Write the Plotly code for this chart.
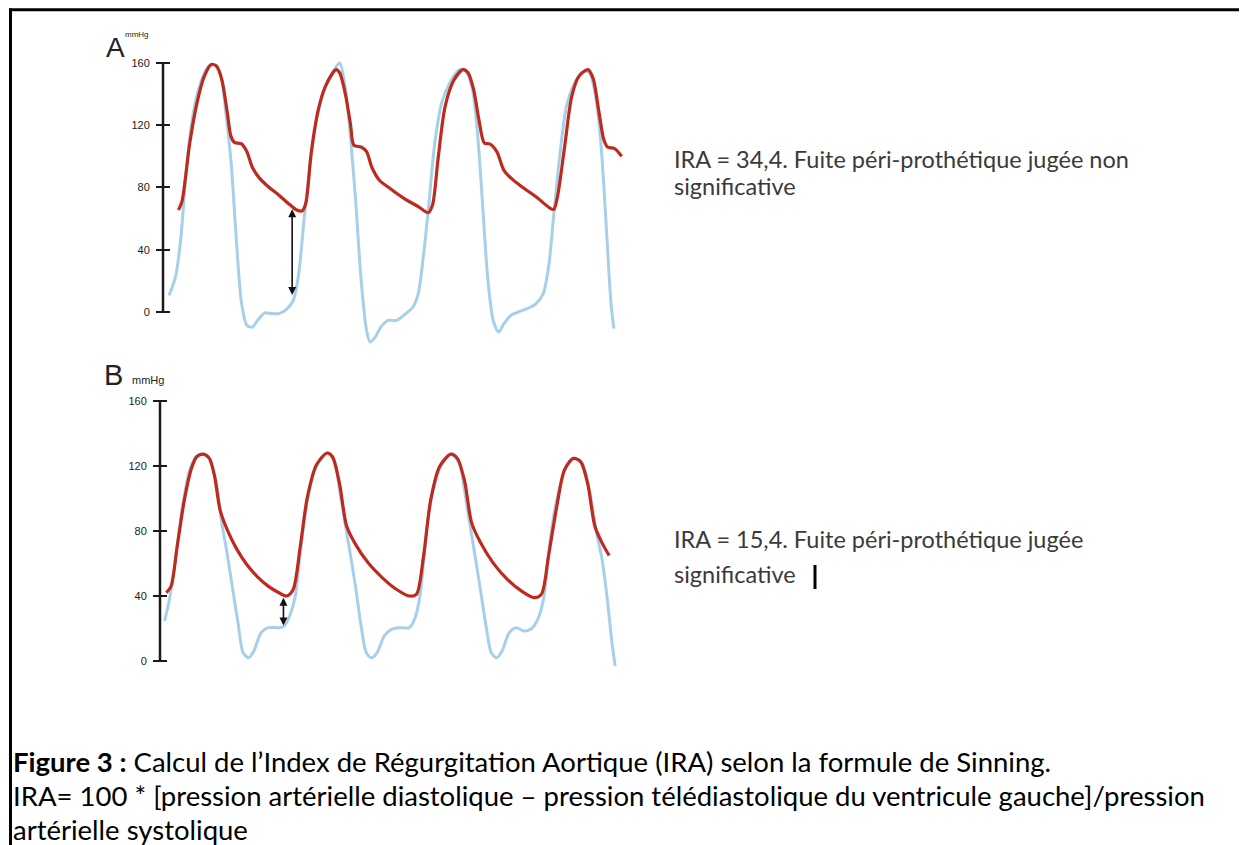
import plotly.graph_objects as go

W, H = 1247, 845

# ---------------- data (time in ms, pressure in mmHg) ----------------
y_ticks = [0, 40, 80, 120, 160]

# Panel A - aortic pressure (red) and LV pressure (blue)
tA_aorta = [65, 90, 145, 195, 245, 295, 333, 370, 408, 433, 458, 508, 545, 583, 633, 695, 770, 845, 895, 933,
            958, 995, 1045, 1095, 1170, 1195, 1233, 1270, 1295, 1345, 1383, 1420, 1470, 1545, 1645, 1745, 1815, 1845, 1883, 1933,
            1995, 2058, 2095, 2133, 2170, 2208, 2245, 2295, 2345, 2395, 2470, 2570, 2670, 2695, 2720, 2770, 2820, 2870, 2933, 2970,
            3008, 3045, 3070, 3120, 3170]
pA_aorta = [65.5, 70.9, 108.5, 134, 151, 159, 158, 149, 128, 113, 109, 108, 103, 93, 86, 80.5, 75, 69, 65.5, 65,
            70, 102, 130, 145, 155.7, 153.6, 140.7, 121, 107, 106, 103, 93, 85, 79.5, 73, 67.7, 63.8, 68.7, 97.7, 132,
            149, 155.7, 153.6, 142.8, 123.5, 108.5, 108, 103, 91, 86, 80.5, 74, 66.6, 66, 74, 106, 138.5, 151.4, 155.7, 150,
            130, 110.6, 106, 105, 100]
tA_lv = [0, 45, 83, 120, 170, 220, 270, 308, 358, 395, 433, 470, 508, 545, 583, 620, 670, 720, 770, 820,
         870, 908, 945, 983, 1033, 1095, 1158, 1195, 1233, 1270, 1308, 1345, 1383, 1408, 1445, 1483, 1533, 1595, 1658, 1708,
         1745, 1783, 1820, 1858, 1908, 1970, 2033, 2070, 2120, 2158, 2195, 2233, 2270, 2308, 2345, 2395, 2445, 2508, 2570, 2620,
         2658, 2695, 2733, 2783, 2845, 2908, 2945, 2983, 3020, 3045, 3070, 3095, 3115]
pA_lv = [10.7, 22.5, 48, 91, 128, 147, 157, 159, 153.6, 130, 97.7, 48, 5.4, -8.6, -9.7, -5.4, -0.6, -1, -1, 1.5,
         7.5, 24.7, 59, 91, 123.5, 145, 155.7, 160, 145, 112.8, 69.8, 20.4, -11.8, -19.3, -16, -9.7, -5.4, -5.4, -1, 3.2,
         11.8, 37.6, 69.8, 106.3, 134, 148, 155.7, 155.7, 145, 117, 69.8, 20.4, -5.4, -12.9, -7.5, -2.1, 0, 2.1, 5.4, 11.8,
         29, 63.4, 97.7, 132, 148, 154.6, 153.6, 140.7, 112.8, 80.5, 41.9, 5.4, -10.7]

# Panel B
tB_aorta = [-18, 15, 58, 108, 158, 195, 240, 283, 320, 358, 408, 470, 545, 620, 695, 770, 825, 870, 920, 970,
            1033, 1108, 1145, 1195, 1245, 1308, 1395, 1495, 1595, 1683, 1733, 1783, 1833, 1895, 1975, 2020, 2070, 2120, 2183, 2270,
            2370, 2470, 2558, 2608, 2658, 2720, 2770, 2833, 2883, 2933, 2983, 3033, 3083]
pB_aorta = [42, 46, 70.6, 99, 118.6, 125.7, 127.3, 124.7, 113.5, 93, 80.8, 69.6, 59.4, 51.8, 46.1, 42, 40, 44, 70.6, 101,
            120.6, 128, 125.7, 109, 82.9, 71.6, 60.4, 51.2, 44, 40, 41, 64.5, 99, 119.6, 127.3, 124.7, 111, 85, 72.7, 60.4,
            50.2, 43, 39, 41, 64.5, 97, 117.6, 124.7, 122.7, 109, 82.9, 72.7, 64.9]
tB_lv = [-30, 8, 45, 95, 145, 195, 240, 283, 333, 370, 408, 445, 483, 520, 558, 595, 645, 695, 770, 808,
         845, 883, 920, 970, 1033, 1108, 1158, 1195, 1233, 1270, 1308, 1345, 1383, 1420, 1458, 1508, 1558, 1620, 1683, 1720,
         1758, 1808, 1845, 1908, 1975, 2033, 2070, 2108, 2145, 2183, 2220, 2258, 2295, 2333, 2383, 2433, 2483, 2533, 2583, 2625,
         2670, 2720, 2783, 2833, 2895, 2945, 2995, 3033, 3070, 3100, 3125]
pB_lv = [24.6, 40, 62.4, 95, 117.6, 126, 127.3, 124.7, 109, 85, 66, 45, 24, 5, 2, 6.2, 17.4, 20.5, 20.5, 21.5,
         27.7, 39, 66.5, 99, 120.6, 128, 123.7, 105, 85, 66, 45, 22, 5, 2, 5.1, 15.4, 19.5, 20.5, 20.5, 25.6,
         40, 82.9, 103, 120.6, 127.3, 121.6, 105, 84, 64, 43, 22, 5, 2, 6.2, 17.4, 20.5, 18.5, 19.5, 25.6, 39,
         74.7, 101, 119.6, 124.7, 121.6, 105, 78.8, 62.6, 38, 13.3, -3.1]

# Double arrows (time, top pressure, bottom pressure)
arrow_t = [862, 802]
arrow_top = [66, 39]
arrow_bottom = [10, 21]

panel_letters = ["A", "B"]
unit_label = "mmHg"
ira_texts = [["IRA = 34,4. Fuite péri-prothétique jugée non", "significative"],
             ["IRA = 15,4. Fuite péri-prothétique jugée", "significative"]]
caption_lines = ["<b>Figure 3 :</b> Calcul de l’Index de Régurgitation Aortique (IRA) selon la formule de Sinning.",
                 "IRA= 100 * [pression artérielle diastolique – pression télédiastolique du ventricule gauche]/pression",
                 "artérielle systolique"]

RED = "#bf2a1e"
BLUE = "#a6d0ea"
AX = "#1a1a1a"

# the page body keeps its default 8px margin: positions below are given in window pixels
OFF = 8


def px(x):
    return (x - OFF) / W


def py(y):
    return 1 - (y - OFF) / H


fig = go.Figure()

for ax, (t_lv, p_lv, t_ao, p_ao) in zip(["", "2"], [(tA_lv, pA_lv, tA_aorta, pA_aorta),
                                                   (tB_lv, pB_lv, tB_aorta, pB_aorta)]):
    fig.add_trace(go.Scatter(x=t_lv, y=p_lv, mode="lines", xaxis="x" + ax, yaxis="y" + ax,
                             line=dict(color=BLUE, width=3, shape="spline", smoothing=0.8), hoverinfo="skip"))
    fig.add_trace(go.Scatter(x=t_ao, y=p_ao, mode="lines", xaxis="x" + ax, yaxis="y" + ax,
                             line=dict(color=RED, width=3.2, shape="spline", smoothing=0.8), hoverinfo="skip"))

# axis geometry (window pixels)
A_axis_px, B_axis_px = 163, 160
right_px = 640
A_top, A_bot = 47.4, 350.9
B_top, B_bot = 384.75, 677.25
tick_half = 7

tickfont = dict(family="Liberation Sans", size=11, color="#1a1a1a")
common_y = dict(tickvals=y_ticks, ticks="outside", ticklen=2 * tick_half, tickwidth=2, tickcolor=AX,
                showgrid=False, zeroline=False, showline=False, tickfont=tickfont, ticklabelstandoff=4,
                anchor="free")

fig.update_layout(
    width=W, height=H, margin=dict(l=0, r=0, t=0, b=0),
    paper_bgcolor="white", plot_bgcolor="rgba(0,0,0,0)", showlegend=False,
    xaxis=dict(domain=[px(A_axis_px), px(right_px)], range=[-42.5, 3298], visible=False),
    xaxis2=dict(domain=[px(B_axis_px), px(right_px)], range=[-62.5, 3299], visible=False),
    yaxis=dict(domain=[py(A_bot), py(A_top)], range=[-25, 170], position=px(A_axis_px + tick_half), **common_y),
    yaxis2=dict(domain=[py(B_bot), py(B_top)], range=[-10, 170], position=px(B_axis_px + tick_half), **common_y),
)

shapes = []
# vertical axis lines from 0 to 160
for xr, yr in [("x domain", "y"), ("x2 domain", "y2")]:
    shapes.append(dict(type="line", xref=xr, yref=yr, x0=0, x1=0, y0=min(y_ticks), y1=max(y_ticks),
                       line=dict(color=AX, width=2.5)))
# figure border (left and top)
shapes.append(dict(type="line", xref="paper", yref="paper", x0=px(10.5), x1=px(10.5), y0=0, y1=py(8.5),
                   line=dict(color="black", width=3)))
shapes.append(dict(type="line", xref="paper", yref="paper", x0=px(9), x1=1, y0=py(9.8), y1=py(9.8),
                   line=dict(color="black", width=3)))
# text cursor after B text
shapes.append(dict(type="line", xref="paper", yref="paper", x0=px(815), x1=px(815), y0=py(565), y1=py(589),
                   line=dict(color="black", width=3)))
fig.update_layout(shapes=shapes)

ann = []
# arrows
for i, (xa, ya) in enumerate([("x", "y"), ("x2", "y2")]):
    ann.append(dict(x=arrow_t[i], y=arrow_top[i], ax=arrow_t[i], ay=arrow_bottom[i], xref=xa, yref=ya,
                    axref=xa, ayref=ya, text="", showarrow=True, arrowhead=2, arrowside="end+start",
                    arrowsize=1, arrowwidth=1.6, arrowcolor="#111", standoff=0, startstandoff=0))


def label(x, y, txt, size):
    return dict(x=px(x), y=py(y), xref="paper", yref="paper", text=txt, showarrow=False,
                xanchor="center", yanchor="middle",
                font=dict(family="Liberation Sans", size=size, color="#222"))


# panel letters and units
ann.append(label(115, 47, panel_letters[0], 28))
ann.append(label(137, 35, unit_label, 8))
ann.append(label(113, 375, panel_letters[1], 29))
ann.append(label(148, 380, unit_label, 11))

# IRA texts (window baselines converted to box centres)
IRA_SIZE = 23.5
for lines, baselines in zip(ira_texts, [(168, 195), (548, 583)]):
    for txt, b in zip(lines, baselines):
        ann.append(dict(x=px(672), y=py(b - 0.387 * IRA_SIZE), xref="paper", yref="paper", text=txt,
                        showarrow=False, xanchor="left", yanchor="middle",
                        font=dict(family="Lato", size=IRA_SIZE, color="#3a3a3a")))
# caption
CAP_SIZE = 27.5
for txt, b in zip(caption_lines, [772, 806, 840]):
    ann.append(dict(x=px(11), y=py(b - 0.387 * CAP_SIZE), xref="paper", yref="paper", text=txt,
                    showarrow=False, xanchor="left", yanchor="middle",
                    font=dict(family="Lato", size=CAP_SIZE, color="black")))
fig.update_layout(annotations=ann)

fig.write_html("out.html")
